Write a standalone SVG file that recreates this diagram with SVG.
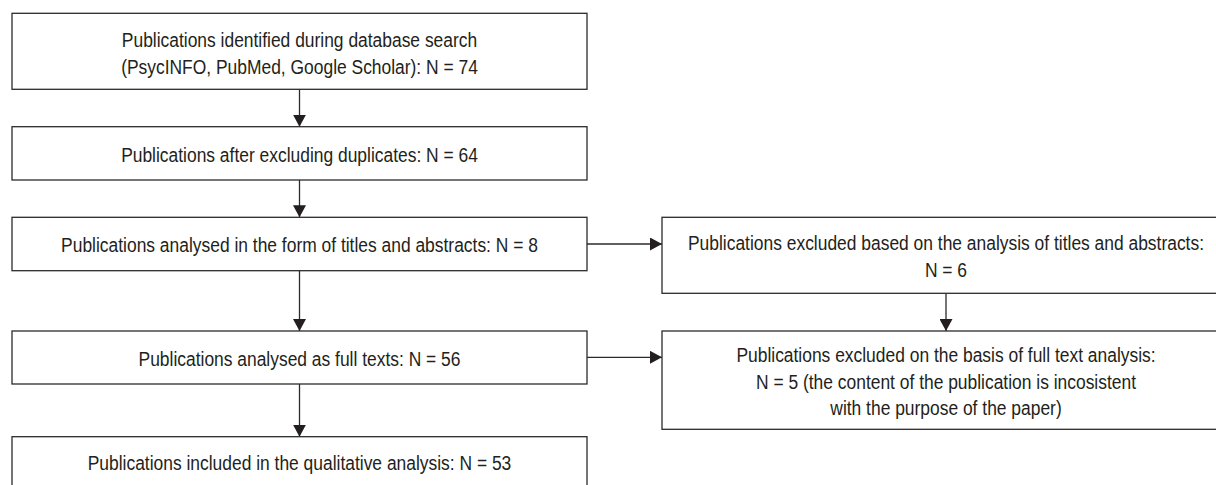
<svg xmlns="http://www.w3.org/2000/svg" width="1216" height="485" viewBox="0 0 1216 485">
<style>
.box{fill:#ffffff;stroke:#2b2b2b;stroke-width:1.3}
.t{font-family:"Liberation Sans",Arial,sans-serif;font-size:21px;fill:#231f20;text-anchor:middle}
.c{stroke:#2b2b2b;stroke-width:1.3;fill:none;marker-end:url(#ah)}
</style>
<defs>
<marker id="ah" markerUnits="userSpaceOnUse" markerWidth="13" markerHeight="13" refX="12" refY="6.5" orient="auto">
<path d="M0,0 L12,6.5 L0,13 z" fill="#231f20"/>
</marker>
</defs>
<rect width="1216" height="485" fill="#ffffff"/>
<g id="connectors">
<line class="c" x1="299.5" y1="89.3" x2="299.5" y2="126.7"/>
<line class="c" x1="299.5" y1="180" x2="299.5" y2="217.3"/>
<line class="c" x1="299.5" y1="270.7" x2="299.5" y2="331"/>
<line class="c" x1="299.5" y1="384" x2="299.5" y2="436.7"/>
<line class="c" x1="587" y1="244" x2="662" y2="244"/>
<line class="c" x1="587" y1="357.3" x2="662" y2="357.3"/>
<line class="c" x1="946" y1="293.3" x2="946" y2="331"/>
</g>
<g id="n1">
<rect class="box" x="12" y="13.3" width="575" height="76"/>
<text class="t" transform="translate(299.5,46.5) scale(0.83,1)">Publications identified during database search</text>
<text class="t" transform="translate(299.5,73.5) scale(0.83,1)">(PsycINFO, PubMed, Google Scholar): N = 74</text>
</g>
<g id="n2">
<rect class="box" x="12" y="126.7" width="575" height="53.3"/>
<text class="t" transform="translate(299.5,161.5) scale(0.83,1)">Publications after excluding duplicates: N = 64</text>
</g>
<g id="n3">
<rect class="box" x="12" y="217.3" width="575" height="53.4"/>
<text class="t" transform="translate(299.5,252.3) scale(0.83,1)">Publications analysed in the form of titles and abstracts: N = 8</text>
</g>
<g id="n4">
<rect class="box" x="12" y="331" width="575" height="53"/>
<text class="t" transform="translate(299.5,365.7) scale(0.83,1)">Publications analysed as full texts: N = 56</text>
</g>
<g id="n5">
<rect class="box" x="12" y="436.7" width="575" height="60"/>
<text class="t" transform="translate(299.5,470) scale(0.83,1)">Publications included in the qualitative analysis: N = 53</text>
</g>
<g id="n6">
<rect class="box" x="662" y="217.3" width="568" height="76"/>
<text class="t" transform="translate(946,250) scale(0.83,1)">Publications excluded based on the analysis of titles and abstracts:</text>
<text class="t" transform="translate(946,277) scale(0.83,1)">N = 6</text>
</g>
<g id="n7">
<rect class="box" x="662" y="331" width="568" height="98.3"/>
<text class="t" transform="translate(946,362) scale(0.83,1)">Publications excluded on the basis of full text analysis:</text>
<text class="t" transform="translate(946,388.5) scale(0.83,1)">N = 5 (the content of the publication is incosistent</text>
<text class="t" transform="translate(946,415) scale(0.83,1)">with the purpose of the paper)</text>
</g>
</svg>
